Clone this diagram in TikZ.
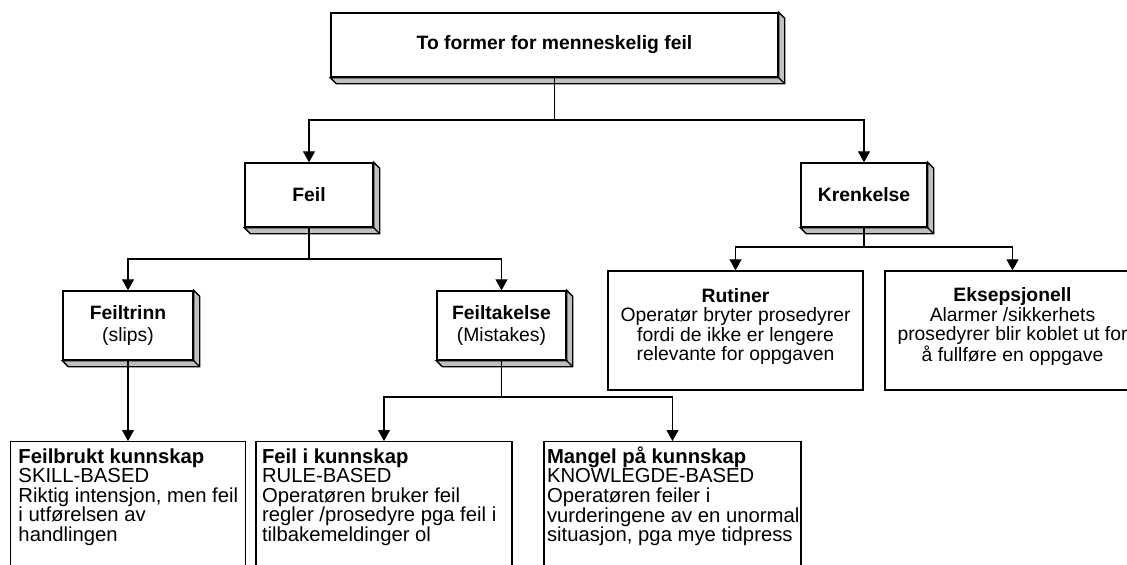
\documentclass[tikz,border=0pt]{standalone}
\usepackage{fontspec}
\setmainfont{Liberation Sans}
\usetikzlibrary{arrows.meta, positioning}
\definecolor{shade}{RGB}{192,192,192}

\begin{document}
\begin{tikzpicture}[
    x=0.75pt, y=-0.75pt,
    every node/.style={font=\fontsize{14.5pt}{14.5pt}\selectfont},
    box/.style={draw=black, fill=white, line width=1pt, rectangle, inner sep=2pt, align=center},
    raised/.style={box, append after command={\pgfextra{
        \draw[line width=1pt, fill=shade] (\tikzlastnode.north east) -- ++(6,6) -- ([shift={(6,6)}]\tikzlastnode.south east) -- ([shift={(6,6)}]\tikzlastnode.south west) -- (\tikzlastnode.south west) -- (\tikzlastnode.south east) -- cycle;
        \draw[line width=1pt] (\tikzlastnode.south east) -- ++(6,6);}}},
    textbox/.style={box, anchor=north, align=left, inner ysep=3.75pt, font=\fontsize{15.2pt}{14.7pt}\selectfont},
    link/.style={line width=0.8pt},
    arrow/.style={link, -{Triangle[width=9pt, length=8.25pt]}}
]
\useasboundingbox (0,0) rectangle (1127,564);
\clip (0,0) rectangle (1127,564);

\node (top) [raised, minimum width=335.25pt, minimum height=48pt] at (554.5,45) {\textbf{To former for menneskelig feil}};
\node (feil) [raised, minimum width=96pt, minimum height=48pt] at (309,195) {\textbf{Feil}};
\node (krenkelse) [raised, minimum width=94.5pt, minimum height=48pt] at (864,195) {\textbf{Krenkelse}};
\node (feiltrinn) [raised, minimum width=97.5pt, minimum height=51.75pt] at (128,325.5) {\textbf{Feiltrinn}\\[2pt](slips)};
\node (feiltakelse) [raised, minimum width=96.75pt, minimum height=51.75pt] at (501.5,325.5) {\textbf{Feiltakelse}\\[2pt](Mistakes)};
\node (rutiner) [box, minimum width=191.25pt, minimum height=89.25pt, text depth=9pt] at (735.5,330.5) {\textbf{Rutiner}\\Operatør bryter prosedyrer\\fordi de ikke er lengere\\relevante for oppgaven};
\node (eksepsjonell) [box, minimum width=191.25pt, minimum height=89.25pt, text depth=9pt] at (1012.5,330.5) {\textbf{Eksepsjonell}\\Alarmer /sikkerhets\\prosedyrer blir koblet ut for\\å fullføre en oppgave};
\node (feilbrukt) [textbox, inner xsep=6pt] at (128,441) {\parbox[t][110pt][t]{164.25pt}{\raggedright\mbox{\vphantom{å}\textbf{Feilbrukt kunnskap}}\\\mbox{SKILL-BASED}\\\mbox{Riktig intensjon, men feil}\\\mbox{i utførelsen av}\\\mbox{handlingen}}};
\node (kunnskap) [textbox, inner xsep=4.5pt] at (384,441) {\parbox[t][110pt][t]{183pt}{\raggedright\mbox{\vphantom{å}\textbf{Feil i kunnskap}}\\\mbox{RULE-BASED}\\\mbox{Operatøren bruker feil}\\\mbox{regler /prosedyre pga feil i}\\\mbox{tilbakemeldinger ol}}};
\node (mangel) [textbox, inner xsep=2.25pt] at (672.5,441) {\parbox[t][110pt][t]{188.25pt}{\raggedright\mbox{\vphantom{å}\textbf{Mangel på kunnskap}}\\\mbox{KNOWLEGDE-BASED}\\\mbox{Operatøren feiler i}\\\mbox{vurderingene av en unormal}\\\mbox{situasjon, pga mye tidpress}}};

\coordinate (split1) at (554.5,120);
\coordinate (split2) at (309,259);
\coordinate (split3) at (864,247);
\coordinate (split4) at (501.5,397);

\draw [link] (top.south) -- (split1);
\draw [arrow] (split1) -| (feil.north);
\draw [arrow] (split1) -| (krenkelse.north);
\draw [link] (feil.south) -- (split2);
\draw [arrow] (split2) -| (feiltrinn.north);
\draw [arrow] (split2) -| (feiltakelse.north);
\draw [link] (krenkelse.south) -- (split3);
\draw [arrow] (split3) -| (rutiner.north);
\draw [arrow] (split3) -| (eksepsjonell.north);
\draw [arrow] (feiltrinn.south) -- (feilbrukt.north);
\draw [link] (feiltakelse.south) -- (split4);
\draw [arrow] (split4) -| (kunnskap.north);
\draw [arrow] (split4) -| (mangel.north);

\end{tikzpicture}
\end{document}
